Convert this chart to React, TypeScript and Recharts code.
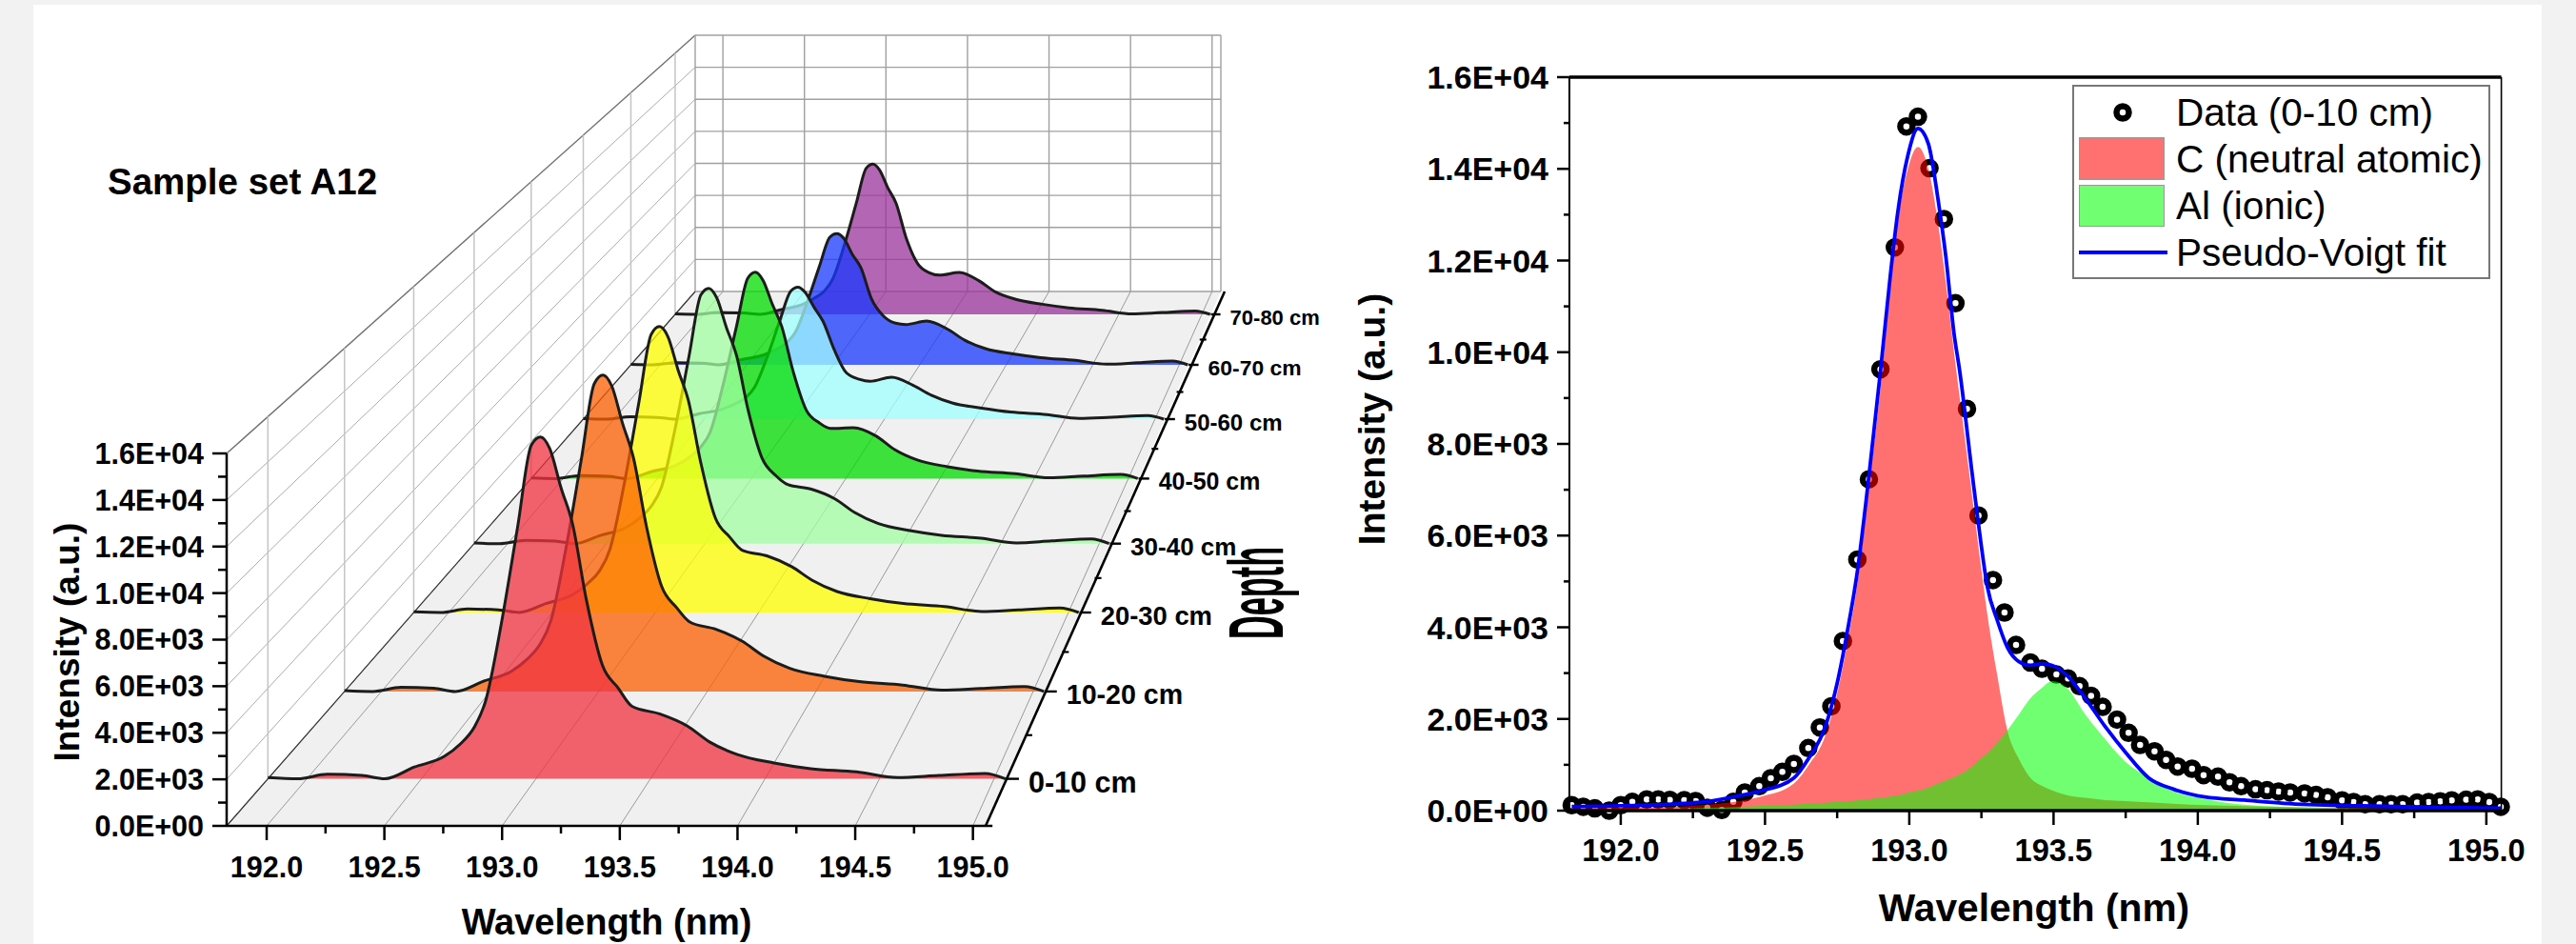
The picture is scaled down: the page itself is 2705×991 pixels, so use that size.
import {
  Area,
  ComposedChart,
  Legend,
  Line,
  ReferenceLine,
  Scatter,
  ScatterChart,
  XAxis,
  YAxis,
} from "recharts";

const PAGE_W = 2705;
const PAGE_H = 991;
const PANEL_W = 1400;
const FONT = '"Liberation Sans", Arial, sans-serif';

// left panel: spectra per depth slice
const sliceWavelengths = [
  191.83, 191.96, 192.09, 192.24, 192.34, 192.47, 192.6, 192.67, 192.73, 192.78, 192.85, 192.92,
  192.98, 193.02, 193.06, 193.11, 193.16, 193.22, 193.29, 193.36, 193.42, 193.54, 193.66, 193.76,
  193.88, 194.04, 194.2, 194.4, 194.58, 194.76, 194.96, 195.05,
];
const depth0to10 = [59, 0, 202, 147, 0, 522, 990, 1540, 2263, 3424, 6908, 11115, 14740, 15100, 14600, 12850, 11260, 7930, 5030, 4000, 3200, 2870, 2340, 1620, 1072, 700, 450, 307, 59, 147, 235, 0];
const depth10to20 = [40, 0, 190, 150, 0, 480, 950, 1500, 2200, 3300, 6700, 10800, 14350, 14750, 14250, 12500, 10900, 7700, 4900, 3900, 3240, 2900, 2350, 1650, 1080, 710, 460, 300, 60, 140, 230, 0];
const depth20to30 = [30, 0, 170, 130, 0, 440, 880, 1400, 2050, 3100, 6350, 10300, 13650, 14030, 13550, 11900, 10400, 7350, 4650, 3700, 3060, 2780, 2250, 1580, 1030, 680, 440, 290, 50, 130, 220, 0];
const depth30to40 = [30, 0, 170, 130, 0, 420, 830, 1320, 1950, 2900, 5950, 9650, 12800, 13130, 12650, 11100, 9700, 6850, 4400, 3500, 3040, 2800, 2300, 1600, 1030, 670, 430, 280, 40, 140, 240, 0];
const depth40to50 = [30, 0, 160, 120, 0, 380, 720, 1150, 1700, 2500, 5100, 8200, 10800, 11120, 10700, 9400, 8200, 5800, 3700, 3000, 2700, 2740, 2300, 1560, 1000, 640, 410, 260, 40, 130, 220, 0];
const depth50to60 = [30, 0, 130, 100, 0, 300, 560, 850, 1200, 1800, 3500, 5550, 7200, 7430, 7150, 6300, 5500, 3950, 2600, 2250, 2130, 2360, 1900, 1350, 900, 620, 400, 260, 40, 110, 200, 0];
const depth60to70 = [25, 0, 130, 100, 0, 310, 590, 900, 1300, 1900, 3700, 5800, 7500, 7720, 7450, 6500, 5700, 3900, 2870, 2450, 2370, 2570, 2100, 1450, 950, 640, 420, 260, 40, 120, 220, 0];
const depth70to80 = [25, 0, 110, 90, 0, 300, 620, 1000, 1450, 2200, 4300, 6800, 8950, 9200, 8850, 7750, 6800, 4700, 3100, 2550, 2400, 2570, 2050, 1360, 920, 620, 400, 250, 30, 110, 200, 0];

const depthLabels = ["0-10 cm", "10-20 cm", "20-30 cm", "30-40 cm", "40-50 cm", "50-60 cm", "60-70 cm", "70-80 cm"];
const depthSeries = [depth0to10, depth10to20, depth20to30, depth30to40, depth40to50, depth50to60, depth60to70, depth70to80];
const depthColors = ["#f0313f", "#fc5f00", "#ffff00", "#a2ffa2", "#00dc00", "#a0ffff", "#1a38ff", "#993399"];
const depthBaselines = [817.6, 725.9, 643, 570.7, 502.4, 440, 383, 330];
const depthFontSizes = [30.5, 28.6, 27.4, 26, 24.9, 24, 22.9, 22];

// right panel: measured points (0-10 cm)
const dataWavelengths = [
  191.83, 191.87, 191.91, 191.96, 192.0, 192.04, 192.09, 192.13, 192.17, 192.22, 192.26, 192.3, 192.35,
  192.39, 192.43, 192.48, 192.52, 192.56, 192.6, 192.65, 192.69, 192.73, 192.77, 192.82, 192.86, 192.9,
  192.95, 192.99, 193.03, 193.07, 193.12, 193.16, 193.2, 193.24, 193.29, 193.33, 193.37, 193.42, 193.46,
  193.51, 193.55, 193.59, 193.63, 193.67, 193.72, 193.76, 193.8, 193.85, 193.89, 193.93, 193.98, 194.02,
  194.07, 194.11, 194.15, 194.2, 194.24, 194.28, 194.32, 194.37, 194.41, 194.45, 194.5, 194.54, 194.58,
  194.63, 194.67, 194.71, 194.76, 194.8, 194.84, 194.88, 194.93, 194.97, 195.01, 195.05,
];
const dataIntensity = [
  90, 55, 20, -30, 90, 160, 215, 215, 205, 200, 180, 35, -15, 160, 367, 505, 680, 817, 990, 1337, 1787,
  2250, 3678, 5458, 7210, 9615, 12280, 14925, 15135, 14010, 12900, 11060, 8750, 6420, 5010, 4300, 3590,
  3207, 3070, 2945, 2860, 2690, 2480, 2237, 1960, 1670, 1405, 1267, 1080, 935, 886, 748, 713, 589, 505,
  436, 415, 388, 367, 346, 312, 263, 194, 159, 111, 111, 111, 111, 145, 159, 173, 194, 208, 215, 159, 55,
];

// right panel: fit curves
const fitWavelengths = [
  191.83, 192.0, 192.2, 192.3, 192.42, 192.49, 192.6, 192.65, 192.71, 192.75, 192.785, 192.82, 192.86,
  192.9, 192.934, 192.96, 192.995, 193.03, 193.066, 193.1, 193.127, 193.155, 193.175, 193.217, 193.247,
  193.27, 193.305, 193.34, 193.38, 193.42, 193.46, 193.495, 193.545, 193.61, 193.68, 193.75, 193.83,
  193.915, 194.025, 194.16, 194.3, 194.57, 194.8, 195.05,
];
const neutralCarbon = [
  50, 60, 90, 130, 220, 310, 590, 980, 1650, 2550, 3650, 4950, 7050, 9200, 11400, 12850, 14000, 14480,
  14000, 12800, 11500, 10000, 9000, 6900, 5400, 4300, 2950, 1752, 1128, 713, 540, 440, 340, 280, 230, 210,
  180, 150, 120, 100, 80, 50, 40, 30,
];
const ionicAluminium = [
  20, 30, 45, 60, 85, 104, 130, 150, 170, 190, 205, 225, 250, 280, 305, 330, 390, 436, 500, 590, 660, 730,
  790, 960, 1130, 1250, 1480, 1752, 2100, 2450, 2680, 2826, 2687, 2099, 1550, 1060, 720, 420, 250, 130, 85,
  45, 30, 20,
];
const pseudoVoigt = [
  90, 105, 150, 200, 340, 436, 713, 1128, 1850, 2780, 3900, 5216, 7294, 9580, 11660, 13050, 14290, 14880,
  14550, 13320, 12070, 10410, 9580, 7400, 5900, 4900, 4150, 3560, 3250, 3170, 3206, 3170, 2960, 2450, 1825,
  1268, 713, 470, 297, 229, 159, 104, 75, 55,
];

const yTicks = [0, 1000, 2000, 3000, 4000, 5000, 6000, 7000, 8000, 9000, 10000, 11000, 12000, 13000, 14000, 15000, 16000];
const yGridValues = [0, 2000, 4000, 6000, 8000, 10000, 12000, 14000, 16000];
const xTicks = [192, 192.25, 192.5, 192.75, 193, 193.25, 193.5, 193.75, 194, 194.25, 194.5, 194.75, 195];
const xGridValues = [192, 192.5, 193, 193.5, 194, 194.5, 195];

const WL_MIN = 191.83;
const WL_MAX = 195.054;
const Y_MAX = 16000;

const fitRows = fitWavelengths.map((wl, i) => ({
  wl,
  carbon: neutralCarbon[i],
  aluminium: ionicAluminium[i],
  fit: pseudoVoigt[i],
}));
const dataRows = dataWavelengths.map((x, i) => ({ x, y: dataIntensity[i] }));

// oblique plane of the 3D box: depth 0 is the front, 1 the back wall
const lerp = (a: number, b: number, t: number) => a + (b - a) * t;
const depthOf = (baseline: number) => (867 - baseline) / 561;
const planeAt = (t: number) => ({
  left: lerp(238, 730, t),
  right: lerp(1035, 1282, t),
  base: lerp(867, 306, t),
  height: lerp(391, 269, t),
});
const project = (wl: number, t: number, v: number) => {
  const p = planeAt(t);
  return {
    x: p.left + ((wl - WL_MIN) / (WL_MAX - WL_MIN)) * (p.right - p.left),
    y: p.base - (v / Y_MAX) * p.height,
  };
};

const sci = (v: number) => {
  const [m, e] = v.toExponential(1).split("e");
  const n = Number(e);
  return `${m}E${n < 0 ? "-" : "+"}${String(Math.abs(n)).padStart(2, "0")}`;
};

function YTick({ x, y, payload, size, major, minor }: any) {
  const isMajor = payload.value % 2000 === 0;
  return (
    <g>
      <line x1={x - (isMajor ? major : minor)} x2={x} y1={y} y2={y} stroke="#000" strokeWidth={2.5} />
      {isMajor && (
        <text x={x - major - 9} y={y + size * 0.36} textAnchor="end" fontSize={size} fontWeight="bold" fontFamily={FONT} fill="#000">
          {sci(payload.value)}
        </text>
      )}
    </g>
  );
}

function XTick({ x, y, payload, size, major, minor, dy }: any) {
  const isMajor = payload.value % 0.5 === 0;
  return (
    <g>
      <line x1={x} x2={x} y1={y} y2={y + (isMajor ? major : minor)} stroke="#000" strokeWidth={2.5} />
      {isMajor && (
        <text x={x} y={y + dy} textAnchor="middle" fontSize={size} fontWeight="bold" fontFamily={FONT} fill="#000">
          {payload.value.toFixed(1)}
        </text>
      )}
    </g>
  );
}

// a chart whose scales are plain pixels of the panel, for the slanted parts of the box
const pixelRows = [
  { px: 0, py: 0 },
  { px: PANEL_W, py: PAGE_H },
];

function PixelFrame({ children }: { children: any }) {
  return (
    <ComposedChart
      width={PANEL_W}
      height={PAGE_H}
      data={pixelRows}
      margin={{ top: 0, right: 0, bottom: 0, left: 0 }}
      style={{ position: "absolute", left: 0, top: 0 }}
    >
      <XAxis dataKey="px" type="number" hide domain={[0, PANEL_W]} />
      <YAxis dataKey="py" type="number" hide domain={[0, PAGE_H]} reversed />
      {children}
    </ComposedChart>
  );
}

const segment = (key: string, a: any, b: any, stroke: string, strokeWidth: number) => (
  <ReferenceLine key={key} segment={[a, b]} stroke={stroke} strokeWidth={strokeWidth} ifOverflow="visible" />
);

function BoxWalls() {
  const front = planeAt(0);
  const back = planeAt(1);
  return (
    <PixelFrame>
      <polygon
        points={`${front.left},${front.base} ${back.left},${back.base} ${back.right},${back.base} ${front.right},${front.base}`}
        fill="#f0f0f0"
      />
      {yGridValues.map((v) =>
        segment(`wall-${v}`, project(WL_MIN, 0, v), project(WL_MIN, 1, v), v === Y_MAX ? "#707070" : "#ababab", v === Y_MAX ? 1.4 : 1)
      )}
      {yGridValues.map((v) => segment(`back-${v}`, project(WL_MIN, 1, v), project(WL_MAX, 1, v), "#a0a0a0", 1.4))}
      {xGridValues.map((wl) => segment(`backv-${wl}`, project(wl, 1, 0), project(wl, 1, Y_MAX), "#a0a0a0", 1.4))}
      {xGridValues.map((wl) => segment(`floor-${wl}`, project(wl, 0, 0), project(wl, 1, 0), "#9a9a9a", 1))}
      {depthBaselines.map((b) =>
        segment(`wallv-${b}`, project(WL_MIN, depthOf(b), 0), project(WL_MIN, depthOf(b), Y_MAX), "#c4c4c4", 1.5)
      )}
      {segment("edge-left", project(WL_MIN, 1, 0), project(WL_MIN, 1, Y_MAX), "#a0a0a0", 1.4)}
      {segment("edge-right", project(WL_MAX, 1, 0), project(WL_MAX, 1, Y_MAX), "#a0a0a0", 1.4)}
      {segment("floor-left", project(WL_MIN, 0, 0), project(WL_MIN, 1, 0), "#333", 1.2)}
    </PixelFrame>
  );
}

function DepthSlice({ index }: { index: number }) {
  const p = planeAt(depthOf(depthBaselines[index]));
  const rows = sliceWavelengths.map((wl, i) => ({ wl, v: depthSeries[index][i] }));
  return (
    <ComposedChart
      width={PANEL_W}
      height={PAGE_H}
      data={rows}
      margin={{ top: p.base - p.height, right: PANEL_W - p.right, bottom: PAGE_H - p.base, left: p.left }}
      style={{ position: "absolute", left: 0, top: 0 }}
    >
      <XAxis dataKey="wl" type="number" hide domain={[WL_MIN, WL_MAX]} />
      <YAxis type="number" hide domain={[0, Y_MAX]} />
      <Area
        dataKey="v"
        type="monotone"
        fill={depthColors[index]}
        fillOpacity={0.75}
        stroke="#1c1c1c"
        strokeWidth={3}
        dot={false}
        activeDot={false}
        isAnimationActive={false}
      />
    </ComposedChart>
  );
}

function DepthAxis() {
  const midDepths = depthBaselines.map((b, i) =>
    i === 0 ? null : (depthOf(b) + depthOf(depthBaselines[i - 1])) / 2
  );
  return (
    <PixelFrame>
      {segment("depth-axis", { x: 1035, y: 867 }, { x: 1286, y: 306 }, "#000", 2.6)}
      {depthBaselines.map((b) => {
        const t = depthOf(b);
        const end = planeAt(t).right + lerp(13.5, 10, t);
        return segment(`dt-${b}`, { x: planeAt(t).right, y: b }, { x: end, y: b }, "#000", 2.4);
      })}
      {depthBaselines.map((b, i) => {
        const t = depthOf(b);
        const end = planeAt(t).right + lerp(13.5, 10, t);
        return (
          <text key={b} x={end + 10} y={b + 3 + depthFontSizes[i] * 0.36} fontSize={depthFontSizes[i]} fontWeight="bold" fontFamily={FONT} fill="#000">
            {depthLabels[i]}
          </text>
        );
      })}
      {midDepths.map((t, i) =>
        t === null
          ? null
          : segment(`dm-${i}`, { x: planeAt(t).right, y: planeAt(t).base }, { x: planeAt(t).right + 7, y: planeAt(t).base }, "#000", 2.2)
      )}
      <text transform="translate(1347,671) rotate(-90) scale(0.858,2.05)" fontSize={40} fontWeight="bold" fontFamily={FONT} fill="#000">
        Depth
      </text>
      <text x={113} y={204} fontSize={38.5} fontWeight="bold" fontFamily={FONT} fill="#000">
        Sample set A12
      </text>
      <text x={637} y={981} textAnchor="middle" fontSize={38} fontWeight="bold" fontFamily={FONT} fill="#000">
        Wavelength (nm)
      </text>
      <text transform="translate(83,674) rotate(-90)" textAnchor="middle" fontSize={37} fontWeight="bold" fontFamily={FONT} fill="#000">
        Intensity (a.u.)
      </text>
    </PixelFrame>
  );
}

const axisRows = [
  { wl: WL_MIN, v: 0 },
  { wl: WL_MAX, v: Y_MAX },
];

function FrontAxes() {
  return (
    <ComposedChart
      width={PANEL_W}
      height={PAGE_H}
      data={axisRows}
      margin={{ top: 476, right: PANEL_W - 1035, bottom: 0, left: 0 }}
      style={{ position: "absolute", left: 0, top: 0 }}
    >
      <XAxis
        dataKey="wl"
        type="number"
        domain={[WL_MIN, WL_MAX]}
        ticks={xTicks}
        interval={0}
        height={PAGE_H - 867}
        tickSize={0}
        tickMargin={0}
        tickLine={false}
        axisLine={{ stroke: "#000", strokeWidth: 2.5 }}
        tick={(p: any) => <XTick {...p} size={30.5} major={15} minor={8} dy={54} />}
      />
      <YAxis
        dataKey="v"
        type="number"
        domain={[0, Y_MAX]}
        ticks={yTicks}
        interval={0}
        width={238}
        tickSize={0}
        tickMargin={0}
        tickLine={false}
        axisLine={{ stroke: "#000", strokeWidth: 2.5 }}
        tick={(p: any) => <YTick {...p} size={30.5} major={15} minor={9} />}
      />
      {segment("x-end", { x: 195.054, y: 0 }, { x: 195.083, y: 0 }, "#000", 2.5)}
    </ComposedChart>
  );
}

const ringShape = (p: any) => <circle cx={p.cx} cy={p.cy} r={6.5} fill="none" stroke="#000" strokeWidth={6.5} />;

function LegendBox() {
  const row = { position: "absolute", left: 107, fontSize: 40.5, lineHeight: "46px", color: "#000", whiteSpace: "nowrap" } as const;
  const swatch = { position: "absolute", left: 5, width: 90, boxSizing: "border-box", border: "1.5px solid #999" } as const;
  return (
    <div style={{ position: "relative", width: 439, height: 204, boxSizing: "border-box", border: "2px solid #777", background: "#fff", fontFamily: FONT }}>
      <svg width={30} height={30} style={{ position: "absolute", left: 36, top: 12 }}>
        <circle cx={15} cy={15} r={6.5} fill="none" stroke="#000" strokeWidth={6.5} />
      </svg>
      <div style={{ ...row, top: 4 }}>Data (0-10 cm)</div>
      <div style={{ ...swatch, top: 53, height: 45, background: "#ff7070" }} />
      <div style={{ ...row, top: 53 }}>C (neutral atomic)</div>
      <div style={{ ...swatch, top: 103, height: 44, background: "#70ff70" }} />
      <div style={{ ...row, top: 102 }}>Al (ionic)</div>
      <div style={{ position: "absolute", left: 5, top: 172, width: 93, height: 4, background: "#0000ff" }} />
      <div style={{ ...row, top: 151 }}>Pseudo-Voigt fit</div>
    </div>
  );
}

function SpectrumFit() {
  const margin = { top: 81, right: 1305 - 1226.6, bottom: 0, left: 0 };
  const xDomain = [191.822, 195.052];
  return (
    <div style={{ position: "absolute", left: PANEL_W, top: 0, width: 1305, height: PAGE_H }}>
      <ScatterChart width={1305} height={PAGE_H} margin={margin} style={{ position: "absolute", left: 0, top: 0 }}>
        <XAxis dataKey="x" type="number" domain={xDomain} height={140} tick={false} tickLine={false} axisLine={false} />
        <YAxis dataKey="y" type="number" domain={[0, Y_MAX]} width={248} tick={false} tickLine={false} axisLine={false} />
        <Scatter data={dataRows} shape={ringShape} isAnimationActive={false} />
      </ScatterChart>
      <ComposedChart width={1305} height={PAGE_H} data={fitRows} margin={margin} style={{ position: "absolute", left: 0, top: 0 }}>
        <XAxis
          dataKey="wl"
          type="number"
          domain={xDomain}
          ticks={xTicks}
          interval={0}
          height={140}
          tickSize={0}
          tickMargin={0}
          tickLine={false}
          axisLine={{ stroke: "#000", strokeWidth: 3.6 }}
          tick={(p: any) => <XTick {...p} size={32.6} major={15} minor={8} dy={53} />}
        />
        <YAxis
          type="number"
          domain={[0, Y_MAX]}
          ticks={yTicks}
          interval={0}
          width={248}
          tickSize={0}
          tickMargin={0}
          tickLine={false}
          axisLine={{ stroke: "#000", strokeWidth: 2 }}
          tick={(p: any) => <YTick {...p} size={34} major={13} minor={6} />}
        />
        <Area dataKey="carbon" type="monotone" fill="#ff0000" fillOpacity={0.56} stroke="none" dot={false} activeDot={false} isAnimationActive={false} />
        <Area dataKey="aluminium" type="monotone" fill="#00ff00" fillOpacity={0.56} stroke="none" dot={false} activeDot={false} isAnimationActive={false} />
        <Line dataKey="fit" type="monotone" stroke="#0000ff" strokeWidth={3.8} dot={false} activeDot={false} isAnimationActive={false} />
        <ReferenceLine y={Y_MAX} stroke="#000" strokeWidth={3.6} ifOverflow="visible" />
        <ReferenceLine x={195.052} stroke="#000" strokeWidth={1.6} ifOverflow="visible" />
        <Legend
          layout="vertical"
          align="center"
          verticalAlign="middle"
          wrapperStyle={{ left: 776, top: 89, width: 439, height: 204 }}
          content={LegendBox}
        />
        <text x={736} y={967} textAnchor="middle" fontSize={40.7} fontWeight="bold" fontFamily={FONT} fill="#000">
          Wavelength (nm)
        </text>
        <text transform="translate(54,440) rotate(-90)" textAnchor="middle" fontSize={39} fontWeight="bold" fontFamily={FONT} fill="#000">
          Intensity (a.u.)
        </text>
      </ComposedChart>
    </div>
  );
}

export default function App() {
  return (
    <div style={{ position: "absolute", left: 0, top: 0, width: PAGE_W, height: PAGE_H, background: "#f2f2f2", overflow: "hidden" }}>
      <div style={{ position: "absolute", left: 35, top: 5, width: 2634, height: PAGE_H - 5, background: "#fff" }} />
      <BoxWalls />
      {[7, 6, 5, 4, 3, 2, 1, 0].map((i) => (
        <DepthSlice key={i} index={i} />
      ))}
      <FrontAxes />
      <DepthAxis />
      <SpectrumFit />
    </div>
  );
}
